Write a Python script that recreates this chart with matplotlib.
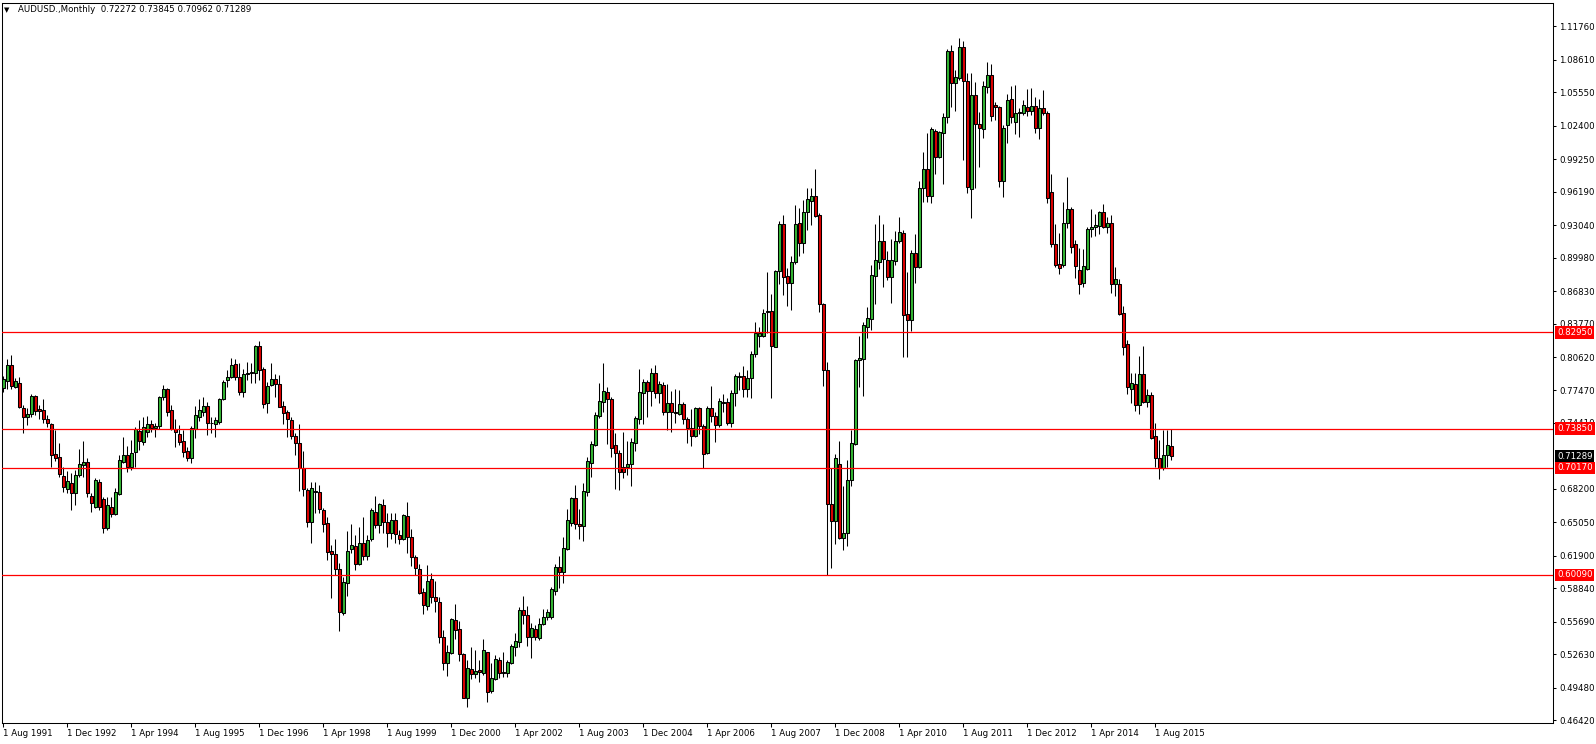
import matplotlib
matplotlib.use("Agg")
import matplotlib.pyplot as plt
from matplotlib.transforms import blended_transform_factory, offset_copy
import numpy as np

# ---------------- data (monthly AUDUSD candles, Aug 1991 .. Dec 2015) ----------------
symbol_title = "AUDUSD.,Monthly"
header_values = "0.72272 0.73845 0.70962 0.71289"

opens = [
    .7768, .7840, .7987, .7783, .7815, .7579, .7501, .7523, .7695, .7573, .7563, .7479, .7428, .7146, .7124, .6942,
    .6816, .6873, .6785, .6951, .7042, .7074, .6753, .6653, .6882, .6722, .6455, .6653, .6587, .6775, .7077, .7137,
    .7030, .7171, .7369, .7259, .7359, .7428, .7397, .7413, .7683, .7758, .7563, .7381, .7334, .7271, .7177, .7108,
    .7385, .7501, .7548, .7601,
    .7438, .7428, .7453, .7670, .7843, .7871, .7997, .7871, .7730, .7899, .7909, .7909, .8166, .7949, .7626, .7802,
    .7852, .7805, .7601, .7541, .7469, .7318, .7249, .7014, .6810, .6511, .6803, .6788, .6621, .6496, .6235, .6204,
    .6062, .5648, .5930, .6251, .6282, .6113, .6307, .6188, .6345, .6599, .6483, .6668, .6511, .6408, .6527, .6386,
    .6351, .6565,
    .6369, .6175, .6062, .5845, .5719, .5967, .5804, .5757, .5427, .5176, .5277, .5584, .5496, .5261, .4853, .5120,
    .5073, .5113, .5088, .5280, .4919, .5025, .5208, .5091, .5082, .5182, .5333, .5380, .5679, .5632, .5421, .5500,
    .5418, .5547, .5610, .5616, .5861, .6081, .6040, .6253, .6501, .6731, .6486, .6473, .6793, .7066, .7233, .7506,
    .7641, .7735,
    .7663, .7233, .7155, .7023, .7029, .7051, .7255, .7481, .7726, .7823, .7745, .7908, .7720, .7798, .7547, .7626,
    .7547, .7525, .7619, .7475, .7390, .7321, .7579, .7415, .7155, .7579, .7509, .7422, .7641, .7635, .7443, .7726,
    .7880, .7886, .7757, .7867, .8094, .8263, .8263, .8483, .8492, .8159, .8875, .9315, .8825, .8756, .8954, .9321,
    .9133, .9425,
    .9530, .9574, .9404, .8558, .7937, .6681, .6521, .7056, .6360, .6401, .6906, .7247, .8032, .8046, .8346, .8421,
    .8824, .8953, .9158, .8977, .8817, .8967, .9158, .9226, .8466, .8408, .9045, .8909, .9649, .9837, .9574, 1.0188,
    .9950, 1.0168, 1.0325, 1.0946, 1.0639, 1.0693, 1.0980, 1.0666, .9643, 1.0530, 1.0257, 1.0206, 1.0608, 1.0717,
    1.0438, 1.0417, .9718, 1.0247,
    1.0490, 1.0279, 1.0358, 1.0364, 1.0414, 1.0383, 1.0427, 1.0216, 1.0405, 1.0358, .9614, .9127, .8939, .8929,
    .9322, .9453, .9127, .8882, .8763, .8888, .9265, .9284, .9300, .9425, .9290, .9322, .8747, .8747, .8474, .8185,
    .7758, .7808, .7610, .7902, .7642, .7704, .7318, .7108, .7014, .7139, .72272,
]

highs = [
    .7884, .8041, .8081, .7868, .7871, .7611, .7579, .7714, .7705, .7611, .7667, .7516, .7438, .7375, .7250, .7030,
    .6992, .6967, .6998, .7193, .7275, .7115, .6778, .6920, .6913, .6747, .6747, .6747, .6826, .7140, .7306, .7228,
    .7281, .7407, .7469, .7494, .7507, .7469, .7444, .7695, .7799, .7768, .7611, .7475, .7422, .7375, .7212, .7413,
    .7601, .7664, .7689, .7642,
    .7500, .7494, .7679, .7846, .7940, .8050, .8040, .8003, .7946, .8018, .8003, .8176, .8213, .7971, .7830, .8003,
    .7899, .7893, .7648, .7563, .7494, .7343, .7428, .7177, .6825, .6882, .6882, .6857, .6637, .6558, .6291, .6345,
    .6119, .5993, .6423, .6486, .6386, .6464, .6558, .6386, .6637, .6753, .6690, .6722, .6596, .6590, .6590, .6433,
    .6584, .6700,
    .6438, .6197, .6112, .5883, .6102, .6024, .5955, .5804, .5490, .5349, .5606, .5732, .5575, .5270, .5208, .5327,
    .5302, .5208, .5402, .5286, .5182, .5255, .5233, .5280, .5208, .5358, .5459, .5710, .5811, .5716, .5553, .5537,
    .5600, .5685, .5685, .5898, .6112, .6187, .6363, .6627, .6746, .6856, .6627, .6872, .7117, .7271, .7547, .7820,
    .8002, .7782,
    .7688, .7343, .7186, .7359, .7274, .7296, .7506, .7949, .7852, .7845, .7955, .7987, .7836, .7830, .7808, .7742,
    .7757, .7751, .7641, .7500, .7569, .7588, .7594, .7428, .7600, .7789, .7547, .7673, .7714, .7673, .7751, .7899,
    .7924, .7977, .7940, .8119, .8392, .8342, .8511, .8866, .8655, .8882, .9346, .9400, .8897, .9013, .9494, .9462,
    .9541, .9657,
    .9653, .9837, .9414, .8568, .8012, .7015, .7152, .7271, .6845, .7090, .7374, .8039, .8261, .8387, .8534, .8926,
    .9319, .9397, .9319, .9056, .9172, .9250, .9376, .9260, .8858, .9069, .9216, .9718, .9991, 1.0171, 1.0229, 1.0205,
    1.0188, 1.0359, 1.0966, 1.1000, 1.0769, 1.1069, 1.1042, 1.0741, 1.0741, 1.0649, 1.0369, 1.0666, 1.0837, 1.0820,
    1.0461, 1.0427, 1.0250, 1.0536,
    1.0615, 1.0625, 1.0405, 1.0483, 1.0584, 1.0593, 1.0515, 1.0490, 1.0578, 1.0383, .9786, .9315, .9227, .9526,
    .9755, .9479, .9165, .9086, .9077, .9290, .9454, .9410, .9441, .9501, .9378, .9400, .8907, .8794, .8543, .8223,
    .7915, .7909, .8072, .8166, .7758, .7736, .7444, .7281, .7375, .7375, .73845,
]

lows = [
    .7736, .7758, .7758, .7774, .7585, .7350, .7422, .7494, .7516, .7475, .7444, .7407, .7030, .7086, .6936, .6794,
    .6778, .6621, .6669, .6936, .6936, .6747, .6606, .6637, .6621, .6408, .6433, .6559, .6574, .6763, .7061, .6983,
    .6998, .7030, .7187, .7234, .7312, .7359, .7306, .7381, .7658, .7507, .7375, .7212, .7234, .7118, .7083, .7067,
    .7296, .7456, .7507, .7328,
    .7343, .7306, .7431, .7657, .7783, .7861, .7846, .7705, .7683, .7846, .7814, .7814, .7846, .7579, .7538, .7789,
    .7683, .7588, .7431, .7312, .7287, .7139, .6800, .6756, .6458, .6313, .6596, .6590, .6417, .6150, .5795, .6009,
    .5485, .5632, .5811, .6213, .6056, .6103, .6150, .6150, .6332, .6449, .6401, .6408, .6276, .6345, .6313, .6301,
    .6339, .6219,
    .6093, .6008, .5826, .5641, .5679, .5741, .5663, .5365, .5113, .5060, .5261, .5405, .5201, .4847, .4768, .5029,
    .5035, .5004, .5066, .4815, .4900, .5019, .5035, .5044, .5051, .5170, .5245, .5333, .5547, .5339, .5230, .5396,
    .5396, .5537, .5584, .5597, .5820, .5883, .5930, .6244, .6470, .6438, .6351, .6332, .6756, .6935, .7223, .7490,
    .7547, .7242,
    .7123, .6816, .6809, .6919, .6951, .6850, .7180, .7431, .7431, .7500, .7600, .7673, .7626, .7516, .7374, .7359,
    .7443, .7516, .7431, .7255, .7227, .7305, .7337, .7020, .7148, .7453, .7265, .7399, .7547, .7422, .7406, .7600,
    .7751, .7688, .7688, .7673, .8065, .8159, .8247, .8291, .7673, .8153, .8750, .8646, .8542, .8505, .8938, .9013,
    .9039, .9258,
    .9308, .9377, .8483, .7793, .6009, .6077, .6299, .6350, .6248, .6282, .6851, .7237, .7783, .7698, .8237, .8312,
    .8558, .8892, .8721, .8790, .8568, .8926, .9131, .8066, .8066, .8305, .8755, .8899, .9523, .9523, .9516, .9786,
    .9933, .9694, 1.0264, 1.0421, 1.0376, 1.0673, .9916, .9602, .9370, .9649, .9847, 1.0127, 1.0547, 1.0284,
    1.0298, .9660, .9568, 1.0079,
    1.0270, 1.0160, 1.0138, 1.0342, 1.0333, 1.0342, 1.0169, 1.0113, 1.0342, .9516, .9102, .8913, .8841, .8913,
    .9281, .9045, .8810, .8653, .8725, .8882, .9196, .9202, .9221, .9275, .9227, .8668, .8637, .8458, .8081, .7714,
    .7626, .7557, .7526, .7626, .7595, .7287, .7029, .6910, .6998, .7023, .70962,
]

closes = [
    .7855, .7987, .7793, .7840, .7595, .7501, .7523, .7695, .7557, .7557, .7482, .7444, .7143, .7115, .6957, .6835,
    .6895, .6785, .6951, .7055, .7074, .6785, .6684, .6904, .6653, .6455, .6669, .6584, .6788, .7093, .7137, .7024,
    .7155, .7385, .7275, .7400, .7428, .7394, .7416, .7683, .7758, .7548, .7381, .7359, .7265, .7171, .7108, .7391,
    .7513, .7563, .7601, .7438,
    .7441, .7469, .7667, .7827, .7871, .7987, .7871, .7730, .7899, .7915, .7921, .8166, .7940, .7617, .7789, .7852,
    .7805, .7595, .7538, .7475, .7321, .7249, .7020, .6816, .6511, .6825, .6794, .6627, .6489, .6229, .6204, .6062,
    .5657, .5940, .6235, .6288, .6113, .6307, .6188, .6339, .6621, .6483, .6678, .6511, .6408, .6527, .6395, .6351,
    .6574, .6370,
    .6175, .6077, .5836, .5726, .5952, .5804, .5767, .5427, .5176, .5286, .5594, .5490, .5261, .4853, .5129, .5073,
    .5107, .5098, .5302, .4909, .5035, .5214, .5088, .5082, .5192, .5339, .5387, .5679, .5632, .5421, .5506, .5427,
    .5547, .5610, .5660, .5873, .6087, .6040, .6263, .6523, .6737, .6486, .6470, .6800, .7082, .7242, .7516, .7647,
    .7742, .7663,
    .7202, .7155, .6982, .6976, .7054, .7258, .7491, .7729, .7823, .7745, .7908, .7720, .7805, .7547, .7626, .7547,
    .7538, .7616, .7475, .7390, .7321, .7579, .7415, .7148, .7585, .7509, .7422, .7644, .7632, .7443, .7726, .7880,
    .7871, .7757, .7867, .8087, .8291, .8291, .8473, .8492, .8169, .8875, .9315, .8819, .8756, .8954, .9315, .9133,
    .9431, .9547,
    .9574, .9394, .8558, .7937, .6681, .6521, .7111, .6360, .6401, .6906, .7254, .8032, .8053, .8363, .8428, .8831,
    .8977, .9158, .8987, .8817, .8977, .9158, .9240, .8458, .8408, .9039, .8909, .9649, .9837, .9574, 1.0212, .9950,
    1.0178, 1.0325, 1.0946, 1.0639, 1.0700, 1.0980, 1.0666, .9660, 1.0530, 1.0257, 1.0216, 1.0615, 1.0717, 1.0335,
    1.0414, .9718, 1.0223, 1.0478,
    1.0326, 1.0358, 1.0373, 1.0436, 1.0383, 1.0427, 1.0216, 1.0405, 1.0358, .9563, .9124, .8929, .8898, .9322,
    .9453, .9102, .8923, .8747, .8920, .9265, .9284, .9306, .9425, .9290, .9322, .8750, .8794, .8468, .8160, .7783,
    .7814, .7610, .7902, .7642, .7704, .7303, .7108, .7014, .7139, .7233, .71289,
]

# x-axis date labels (month index from Aug 1991)
tick_months = [0, 16, 32, 48, 64, 80, 96, 112, 128, 144, 160, 176, 192, 208, 224, 240, 256, 272, 288]
tick_labels = ["1 Aug 1991", "1 Dec 1992", "1 Apr 1994", "1 Aug 1995", "1 Dec 1996", "1 Apr 1998",
               "1 Aug 1999", "1 Dec 2000", "1 Apr 2002", "1 Aug 2003", "1 Dec 2004", "1 Apr 2006",
               "1 Aug 2007", "1 Dec 2008", "1 Apr 2010", "1 Aug 2011", "1 Dec 2012", "1 Apr 2014",
               "1 Aug 2015"]

price_ticks = [1.11760, 1.08610, 1.05550, 1.02400, 0.99250, 0.96190, 0.93040, 0.89980, 0.86830,
               0.83770, 0.80620, 0.77470, 0.74410, 0.68200, 0.65050, 0.61900, 0.58840, 0.55690,
               0.52630, 0.49480, 0.46420]

levels = [0.82950, 0.73850, 0.70170, 0.60090]
last_price = 0.71289

n = len(opens)
for arr in (highs, lows, closes):
    if len(arr) != n:
        raise ValueError(f"length mismatch {len(arr)} vs {n}")

# ---------------- drawing ----------------
W, H = 1596, 744
fig = plt.figure(figsize=(W / 100, H / 100), dpi=100)
fig.patch.set_facecolor("white")
ax = fig.add_axes([2 / W, 1 - 723 / H, (1553 - 2) / W, (723 - 3) / H])
ax.set_facecolor("white")

x = np.arange(n)
o = np.array(opens)
hi = np.array(highs)
lo = np.array(lows)
c = np.array(closes)
up = c >= o

GREEN = "#33B533"
RED = "#DD0000"

ax.vlines(x, lo, hi, color="black", linewidth=0.75, zorder=2)
body = np.abs(c - o)
min_body = 0.0007
bh = np.maximum(body, min_body)
bottom = np.minimum(o, c) - (bh - body) / 2
ax.bar(x, bh, bottom=bottom, width=0.62, color=np.where(up, GREEN, RED),
       edgecolor="black", linewidth=0.75, zorder=3)

for lv in levels:
    ax.axhline(lv, color="#FF0000", linewidth=0.9, zorder=4)

ax.set_xlim(-0.325, 387.425)
ax.set_ylim(0.4615, 1.1396)

for s in ax.spines.values():
    s.set_linewidth(0.75)
    s.set_color("black")

ax.yaxis.tick_right()
ax.set_yticks(price_ticks)
ax.set_yticklabels([f"{v:.5f}" for v in price_ticks])
ax.tick_params(axis="y", direction="out", length=2.5, width=0.75, labelsize=6.2, pad=2, colors="black")

ax.set_xticks(tick_months)
ax.set_xticklabels(tick_labels)
ax.tick_params(axis="x", direction="out", length=3, width=0.75, labelsize=6.2, pad=1.5, colors="black")
for lbl in ax.get_xticklabels():
    lbl.set_horizontalalignment("left")

# price tags on the right axis
trans = offset_copy(blended_transform_factory(ax.transAxes, ax.transData), fig=fig, x=4, y=0, units="dots")
for lv in levels:
    ax.text(1.0, lv, f"{lv:.5f}", transform=trans, ha="left", va="center", fontsize=6.2, color="white",
            clip_on=False, zorder=10,
            bbox=dict(boxstyle="square,pad=0.22", facecolor="#FF0000", edgecolor="none"))
ax.text(1.0, last_price, f"{last_price:.5f}", transform=trans, ha="left", va="center", fontsize=6.2,
        color="white", clip_on=False, zorder=11,
        bbox=dict(boxstyle="square,pad=0.22", facecolor="black", edgecolor="none"))

# header
fig.text(3.5 / W, 1 - 10 / H, "\u25BC", fontsize=5, va="center", ha="left", color="black")
fig.text(18 / W, 1 - 10 / H, f"{symbol_title}  {header_values}", fontsize=6.2, va="center", ha="left",
         color="black")

fig.savefig("out.png", dpi=100, facecolor="white")
